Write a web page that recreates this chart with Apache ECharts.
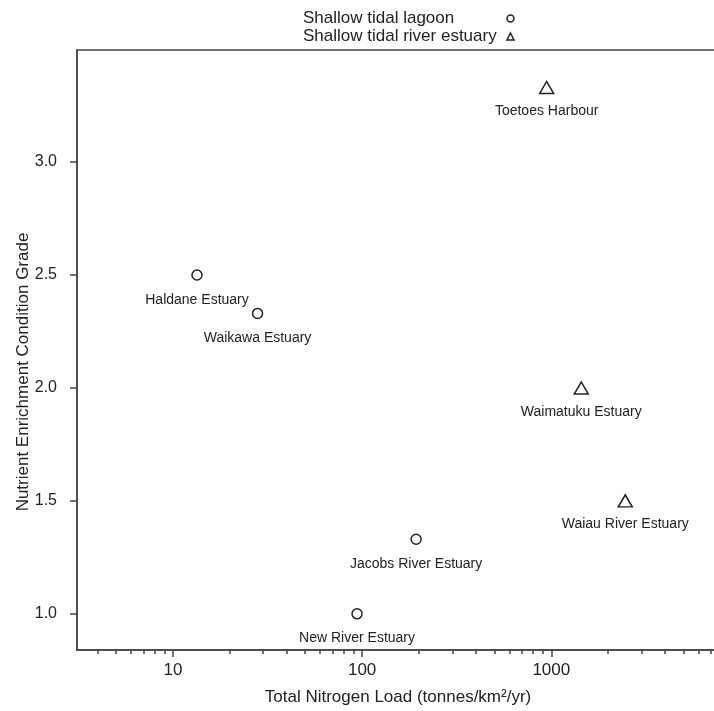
<!DOCTYPE html>
<html>
<head>
<meta charset="utf-8">
<script src="https://cdn.jsdelivr.net/npm/echarts@6/dist/echarts.min.js"></script>
<style>
  html, body { margin: 0; padding: 0; background: #fff; }
  #chart { width: 714px; height: 711px; }
</style>
</head>
<body>
<div id="chart"></div>
<script>
  // site data
  const siteNames = ['Haldane Estuary', 'Waikawa Estuary', 'Jacobs River Estuary', 'New River Estuary',
    'Toetoes Harbour', 'Waimatuku Estuary', 'Waiau River Estuary'];
  const siteTypes = ['lagoon', 'lagoon', 'lagoon', 'lagoon', 'river', 'river', 'river'];
  const nitrogenLoad = [13.4, 28, 193, 94, 945, 1440, 2460];
  const conditionGrade = [2.5, 2.33, 1.33, 1.0, 3.33, 2.0, 1.5];

  const typeLabels = { lagoon: 'Shallow tidal lagoon', river: 'Shallow tidal river estuary' };
  const yTicks = [1.0, 1.5, 2.0, 2.5, 3.0];
  const xMajorTicks = [10, 100, 1000];
  const xMinorTicks = [4, 5, 6, 7, 8, 9, 20, 30, 40, 50, 60, 70, 80, 90,
    200, 300, 400, 500, 600, 700, 800, 900, 2000, 3000, 4000, 5000, 6000, 7000];

  const xMin = 3.11, xMax = 7700;
  const yMin = 0.84, yMax = 3.496;
  const ink = '#222';
  const font = 'Liberation Sans, Arial, sans-serif';

  const pointsOf = (type) => siteNames
    .map((name, i) => ({ name: name, value: [nitrogenLoad[i], conditionGrade[i]], type: siteTypes[i] }))
    .filter((d) => d.type === type)
    .map((d) => ({ name: d.name, value: d.value }));

  const chart = echarts.init(document.getElementById('chart'));

  const logAxis = {
    type: 'log',
    logBase: 10,
    min: xMin,
    max: xMax,
    gridIndex: 0,
    splitLine: { show: false },
  };

  chart.setOption({
    animation: false,
    backgroundColor: '#fff',
    textStyle: { fontFamily: font },
    grid: {
      left: 77, top: 50, right: -5, bottom: 61,
      outerBoundsMode: 'none',
      containLabel: false,
      show: true, borderColor: '#444', borderWidth: 1.5, backgroundColor: 'transparent',
    },
    legend: {
      orient: 'vertical',
      left: 298,
      top: 5,
      align: 'right',
      itemGap: 1,
      itemWidth: 7,
      itemHeight: 7,
      formatter: (name) => '{t|' + name + '}',
      textStyle: {
        fontSize: 17, color: ink, fontFamily: font,
        rich: { t: { fontSize: 17, color: ink, fontFamily: font, width: 199, align: 'left' } },
      },
      data: [
        { name: typeLabels.lagoon, icon: 'circle', itemStyle: { color: '#fff', borderColor: ink, borderWidth: 1.5 } },
        { name: typeLabels.river, icon: 'triangle', itemStyle: { color: '#fff', borderColor: ink, borderWidth: 1.5 } },
      ],
    },
    xAxis: [
      Object.assign({}, logAxis, {
        name: 'Total Nitrogen Load (tonnes/km²/yr)',
        nameLocation: 'middle',
        nameGap: 39,
        nameTextStyle: { fontSize: 17, color: ink },
        axisLine: { show: true, lineStyle: { color: '#444', width: 1.5 } },
        axisTick: { show: true, length: 7, customValues: xMajorTicks, lineStyle: { color: '#444', width: 1.5 } },
        axisLabel: { fontSize: 17, color: ink, margin: 12, customValues: xMajorTicks, formatter: (v) => String(Math.round(v)) },
      }),
      Object.assign({}, logAxis, {
        position: 'bottom',
        axisLine: { show: false },
        axisTick: { show: true, length: 4, customValues: xMinorTicks, lineStyle: { color: '#444', width: 1.5 } },
        axisLabel: { show: false },
      }),
    ],
    yAxis: {
      type: 'value',
      min: yMin,
      max: yMax,
      name: 'Nutrient Enrichment Condition Grade',
      nameLocation: 'middle',
      nameGap: 45,
      nameMoveOverlap: false,
      nameTextStyle: { fontSize: 17, color: ink, padding: [0, 44, 0, 0] },
      splitLine: { show: false },
      axisLine: { show: true, lineStyle: { color: '#444', width: 1.5 } },
      axisTick: { show: true, length: 7, customValues: yTicks, lineStyle: { color: '#444', width: 1.5 } },
      axisLabel: { fontSize: 16, color: ink, margin: 20, customValues: yTicks, formatter: (v) => v.toFixed(1) },
    },
    series: [
      {
        name: typeLabels.lagoon,
        type: 'scatter',
        symbol: 'circle',
        symbolSize: 10,
        itemStyle: { color: '#fff', borderColor: ink, borderWidth: 1.5, opacity: 1 },
        label: {
          show: true, position: 'bottom', distance: 12,
          formatter: (p) => p.name, fontSize: 14, color: ink, fontFamily: font,
        },
        data: pointsOf('lagoon'),
      },
      {
        name: typeLabels.river,
        type: 'scatter',
        symbol: 'triangle',
        symbolSize: [14, 12],
        itemStyle: { color: '#fff', borderColor: ink, borderWidth: 1.5, opacity: 1 },
        label: {
          show: true, position: 'bottom', distance: 10,
          formatter: (p) => p.name, fontSize: 14, color: ink, fontFamily: font,
        },
        data: pointsOf('river'),
      },
    ],
  });
</script>
</body>
</html>
